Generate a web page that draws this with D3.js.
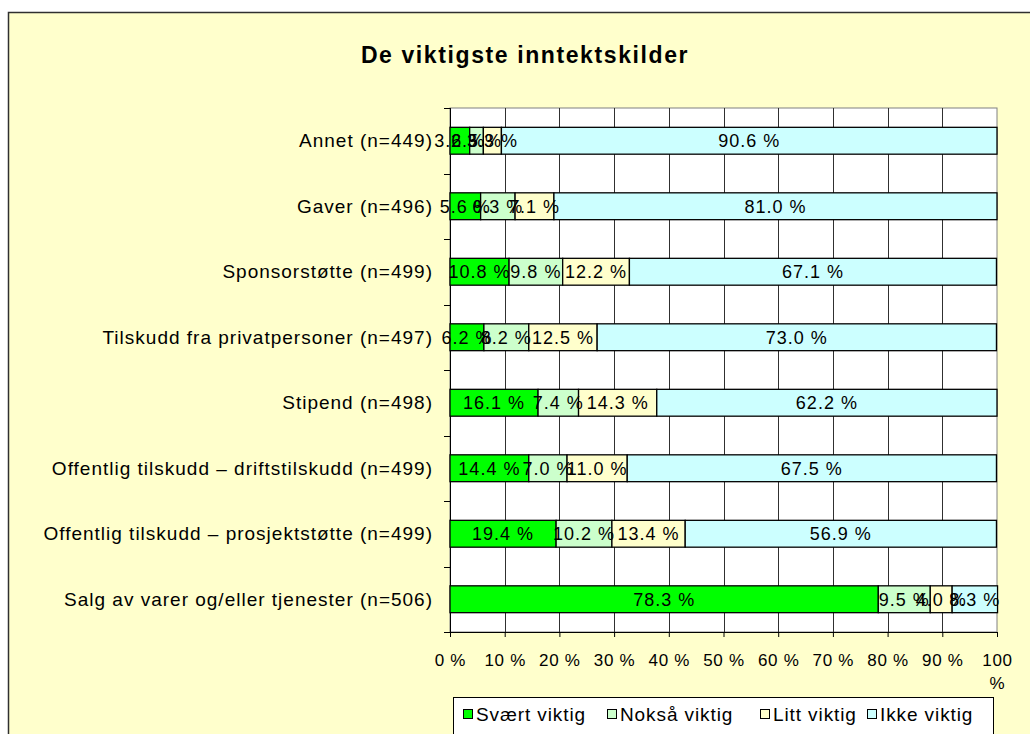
<!DOCTYPE html>
<html>
<head>
<meta charset="utf-8">
<script src="https://cdn.jsdelivr.net/npm/d3@7"></script>
<style>
  html, body { margin: 0; padding: 0; background: #ffffff; }
  svg { display: block; font-family: "Liberation Sans", Arial, sans-serif; }
</style>
</head>
<body>
<svg id="chart" width="1030" height="734"></svg>
<script>
const categories = [
  "Annet (n=449)",
  "Gaver (n=496)",
  "Sponsorstøtte (n=499)",
  "Tilskudd fra privatpersoner (n=497)",
  "Stipend (n=498)",
  "Offentlig tilskudd \u2013 driftstilskudd (n=499)",
  "Offentlig tilskudd \u2013 prosjektstøtte (n=499)",
  "Salg av varer og/eller tjenester (n=506)"
];
const seriesNames = ["Svært viktig", "Nokså viktig", "Litt viktig", "Ikke viktig"];
const svaertViktig = [3.6, 5.6, 10.8, 6.2, 16.1, 14.4, 19.4, 78.3];
const noksaViktig  = [2.5, 6.3, 9.8, 8.2, 7.4, 7.0, 10.2, 9.5];
const littViktig   = [3.3, 7.1, 12.2, 12.5, 14.3, 11.0, 13.4, 4.0];
const ikkeViktig   = [90.6, 81.0, 67.1, 73.0, 62.2, 67.5, 56.9, 8.3];
const seriesColors = ["#00ff00", "#ccffcc", "#ffffcc", "#ccffff"];
const tickValues = [0, 10, 20, 30, 40, 50, 60, 70, 80, 90, 100];
const titleText = "De viktigste inntektskilder";

const seriesValues = [svaertViktig, noksaViktig, littViktig, ikkeViktig];
const rows = categories.map((c, i) => {
  const r = { category: c };
  seriesNames.forEach((s, j) => r[s] = seriesValues[j][i]);
  return r;
});
const stacked = d3.stack().keys(seriesNames)(rows);

const svg = d3.select("#chart");
const W = 1030, H = 734;
const plot = { left: 450, right: 997, top: 108, bottom: 632 };

// background + outer frame
svg.append("rect").attr("x", 0).attr("y", 0).attr("width", W).attr("height", H).attr("fill", "#ffffff");
svg.append("rect").attr("x", 8.5).attr("y", 12.5).attr("width", W + 20).attr("height", H + 20)
  .attr("fill", "#ffffcc").attr("stroke", "#303030").attr("stroke-width", 1.5);

// title
svg.append("text").attr("x", 525).attr("y", 63).attr("text-anchor", "middle")
  .attr("font-size", 23).attr("font-weight", "bold").attr("letter-spacing", 1.6)
  .attr("fill", "#000").text(titleText);

const x = d3.scaleLinear().domain([0, 100]).range([plot.left, plot.right]);
const y = d3.scaleBand().domain(categories).range([plot.top, plot.bottom]).paddingInner(0.59).paddingOuter(0.295);

// plot area
svg.append("rect").attr("x", plot.left).attr("y", plot.top)
  .attr("width", plot.right - plot.left).attr("height", plot.bottom - plot.top)
  .attr("fill", "#ffffff").attr("stroke", "#808080").attr("stroke-width", 1);

// vertical gridlines
svg.append("g").selectAll("line").data(tickValues.slice(1, -1)).join("line")
  .attr("x1", d => Math.round(x(d)) + 0.5).attr("x2", d => Math.round(x(d)) + 0.5)
  .attr("y1", plot.top).attr("y2", plot.bottom)
  .attr("stroke", "#303030").attr("stroke-width", 1);

// bottom axis
const xAxis = d3.axisBottom(x).tickValues(tickValues).tickSize(5).tickFormat(d => d + " %");
const gx = svg.append("g").attr("transform", `translate(0,${plot.bottom})`).call(xAxis);
gx.select(".domain").attr("stroke", "#000");
gx.selectAll(".tick line").attr("stroke", "#000");
gx.selectAll(".tick text").attr("font-size", 17).attr("letter-spacing", 0.7).attr("fill", "#000")
  .attr("font-family", "Liberation Sans, Arial, sans-serif").attr("y", 0).attr("dy", null)
  .each(function(d) {
    const t = d3.select(this);
    t.text(null);
    if (d === 100) {
      t.append("tspan").attr("x", 0).attr("y", 34).text("100");
      t.append("tspan").attr("x", 0).attr("y", 57).text("%");
    } else {
      t.append("tspan").attr("x", 0).attr("y", 34).text(d + " %");
    }
  });

// left axis
const yBounds = d3.range(categories.length + 1).map(i => plot.top + i * (plot.bottom - plot.top) / categories.length);
svg.append("line").attr("x1", plot.left + 0.5).attr("x2", plot.left + 0.5)
  .attr("y1", plot.top).attr("y2", plot.bottom).attr("stroke", "#000");
svg.append("g").selectAll("line").data(yBounds).join("line")
  .attr("x1", plot.left - 6).attr("x2", plot.left)
  .attr("y1", d => Math.round(d) + 0.5).attr("y2", d => Math.round(d) + 0.5)
  .attr("stroke", "#000");

// category labels
svg.append("g").selectAll("text").data(categories).join("text")
  .attr("x", 433).attr("y", d => y(d) + y.bandwidth() / 2)
  .attr("dy", "0.35em").attr("text-anchor", "end")
  .attr("font-size", 19).attr("letter-spacing", 1).attr("fill", "#000").text(d => d);

// bars
const layers = svg.append("g").selectAll("g").data(stacked).join("g")
  .attr("fill", (d, i) => seriesColors[i]);
layers.selectAll("rect").data(d => d).join("rect")
  .attr("x", d => x(d[0])).attr("width", d => x(d[1]) - x(d[0]))
  .attr("y", d => y(d.data.category)).attr("height", y.bandwidth())
  .attr("stroke", "#000").attr("stroke-width", 1.3);

// value labels
const labelG = svg.append("g");
stacked.forEach((layer, i) => {
  labelG.selectAll(null).data(layer).join("text")
    .attr("x", d => (x(d[0]) + x(d[1])) / 2)
    .attr("y", d => y(d.data.category) + y.bandwidth() / 2)
    .attr("dy", "0.35em").attr("text-anchor", "middle")
    .attr("font-size", 18).attr("letter-spacing", 1).attr("fill", "#000")
    .text(d => (d[1] - d[0]).toFixed(1) + " %");
});

// legend
const legend = svg.append("g");
legend.append("rect").attr("x", 453.5).attr("y", 697.5).attr("width", 540).attr("height", 50)
  .attr("fill", "#ffffff").attr("stroke", "#000").attr("stroke-width", 1);
const legendX = [463, 607, 760, 867];
seriesNames.forEach((s, i) => {
  legend.append("rect").attr("x", legendX[i] + 0.5).attr("y", 709.5).attr("width", 9).attr("height", 9)
    .attr("fill", seriesColors[i]).attr("stroke", "#000").attr("stroke-width", 1);
  legend.append("text").attr("x", legendX[i] + 13).attr("y", 714).attr("dy", "0.35em")
    .attr("font-size", 19).attr("letter-spacing", 0.9).attr("fill", "#000").text(s);
});
</script>
</body>
</html>
